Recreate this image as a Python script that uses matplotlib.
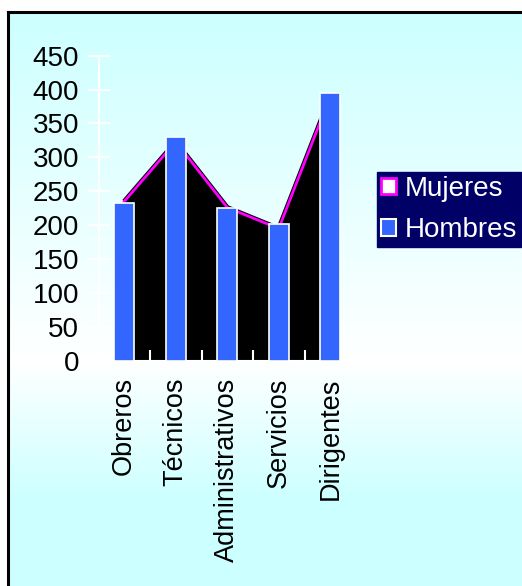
import numpy as np
import matplotlib
matplotlib.use("Agg")
import matplotlib.pyplot as plt
from matplotlib.patches import Patch
from matplotlib.lines import Line2D

plt.rcParams['font.family'] = ['Liberation Sans', 'DejaVu Sans']

# datos
categorias = ['Obreros', 'Técnicos', 'Administrativos', 'Servicios', 'Dirigentes']
mujeres = [235, 323, 226, 195, 390]
hombres = [233, 330, 225, 201, 395]
yticks = [0, 50, 100, 150, 200, 250, 300, 350, 400, 450]

W, H = 522, 586
fig = plt.figure(figsize=(W / 100, H / 100), dpi=100)

# fondo degradado cian - blanco - cian
bg = fig.add_axes([0, 0, 1, 1], zorder=-10)
bg.axis('off')
ys = np.arange(H)
t = np.interp(ys, [0, 11, 360, 500, H], [0.0, 0.0, 1.0, 0.0, 0.0])
cyan = np.array([0.80, 1.0, 1.0])
white = np.array([1.0, 1.0, 1.0])
col = cyan[None, :] * (1 - t[:, None]) + white[None, :] * t[:, None]
img = np.repeat(col[:, None, :], W, axis=1)
img[:11, :, :] = 1.0
img[:, :7, :] = 1.0
bg.imshow(img, aspect='auto', extent=[0, 1, 0, 1], origin='upper')
bg.set_xlim(0, 1)
bg.set_ylim(0, 1)
bg.add_line(Line2D([8 / W, 8 / W], [0, 1 - 12 / H], color='black', lw=2.2))
bg.add_line(Line2D([8 / W, 1], [1 - 12 / H, 1 - 12 / H], color='black', lw=2.2))

ax = fig.add_axes([98.5 / W, 1 - 360.7 / H, 257.5 / W, 305 / H])
ax.patch.set_alpha(0)
x = np.arange(len(categorias))

ax.fill_between(x, 0, mujeres, color='black', zorder=1, lw=0)
ax.plot(x, mujeres, color='black', lw=3.5, zorder=2, solid_capstyle='butt')
ax.plot(x, mujeres, color='#ff00ff', lw=2.0, zorder=3)
ax.bar(x, hombres, width=0.38, color='#3366ff', edgecolor='white', lw=1.2, zorder=4)

ax.set_xlim(-0.5, 4.5)
ax.set_ylim(0, 450)
ax.set_yticks(yticks)
ax.set_xticks(x)
ax.set_xticklabels(categorias, rotation=90, va='top', ha='center')
ax.set_xticks([0.5, 1.5, 2.5, 3.5], minor=True)

for s in ['top', 'right']:
    ax.spines[s].set_visible(False)
ax.spines['left'].set_color('white')
ax.spines['left'].set_linewidth(1.5)
ax.spines['bottom'].set_color('white')
ax.spines['bottom'].set_linewidth(1.5)
ax.spines['left'].set_zorder(5)

ax.tick_params(axis='y', colors='white', direction='inout', length=16, width=1.5,
               labelcolor='black', labelsize=20, pad=6)
ax.tick_params(axis='x', which='major', length=0, labelsize=19.5, pad=12, labelcolor='black')
ax.tick_params(axis='x', which='minor', colors='white', direction='inout', length=16, width=1.5)
for tl in ax.xaxis.get_minorticklines():
    tl.set_zorder(6)

handles = [Patch(facecolor='white', edgecolor='#ff00ff', lw=2),
           Patch(facecolor='#3366ff', edgecolor='white', lw=1.5)]
leg = fig.legend(handles, ['Mujeres', 'Hombres'], loc='upper left',
                 bbox_to_anchor=(377 / W, 1 - 171.7 / H), fontsize=20,
                 frameon=True, facecolor='#000066', edgecolor='#000066', framealpha=1,
                 fancybox=False, borderpad=0.15, borderaxespad=0, handlelength=0.55,
                 handleheight=0.55, handletextpad=0.3, labelspacing=0.55)
for txt in leg.get_texts():
    txt.set_color('white')

fig.savefig('out.png', dpi=100)
